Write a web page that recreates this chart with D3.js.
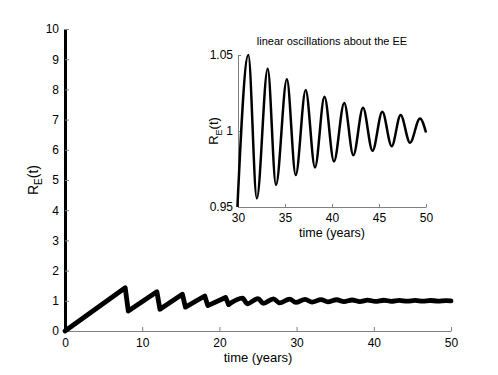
<!DOCTYPE html>
<html>
<head>
<meta charset="utf-8">
<script src="https://cdn.jsdelivr.net/npm/d3@7/dist/d3.min.js"></script>
<style>
  body { margin: 0; background: #fff; }
  svg { font-family: "Liberation Sans", Arial, Helvetica, sans-serif; }
  .axis text { fill: #000; }
</style>
</head>
<body>
<div class="chart"></div>
<script>
var svgWidth = 498;
var svgHeight = 375;

// R_E(t): peaks and troughs of the curve
var timeYears = [0, 7.8, 8.2, 11.9, 12.3, 15.2, 15.6, 18.1, 18.5, 20.8, 21.2,
  23.0, 23.6, 25.0, 25.7, 27.0, 27.8, 29.1, 29.9,
  31.1, 32.0, 33.16, 34.04, 35.2, 36.14, 37.2, 38.19, 39.2, 40.21,
  41.3, 42.27, 43.3, 44.31, 45.35, 46.35, 47.3, 48.3, 49.36, 50];
var rValues = [0, 1.43, 0.66, 1.30, 0.72, 1.22, 0.79, 1.16, 0.84, 1.11, 0.88,
  1.09, 0.90, 1.075, 0.915, 1.065, 0.93, 1.057, 0.945,
  1.05, 0.9557, 1.041, 0.9645, 1.034, 0.971, 1.027, 0.976, 1.0225, 0.980,
  1.0185, 0.984, 1.0153, 0.987, 1.0127, 0.990, 1.0105, 0.9923, 1.0083, 0.999];

var mainXTicks = [0, 10, 20, 30, 40, 50];
var mainYTicks = [0, 1, 2, 3, 4, 5, 6, 7, 8, 9, 10];
var insetXTicks = [30, 35, 40, 45, 50];
var insetYTicks = [0.95, 1, 1.05];

var series = timeYears.map(function(t, i) { return { t: t, r: rValues[i] }; });

var svg = d3.select(".chart")
  .append("svg")
  .attr("width", svgWidth)
  .attr("height", svgHeight);

// main axes
var margin = { top: 29, right: 47, bottom: 44, left: 65 };
var width = svgWidth - margin.left - margin.right;
var height = svgHeight - margin.top - margin.bottom;

var chartGroup = svg.append("g")
  .attr("transform", `translate(${margin.left}, ${margin.top})`);

var xScale = d3.scaleLinear().domain([0, 50]).range([0, width]);
var yScale = d3.scaleLinear().domain([0, 10]).range([height, 0]);

var bottomAxis = chartGroup.append("g")
  .attr("class", "axis")
  .attr("transform", `translate(0, ${height})`)
  .call(d3.axisBottom(xScale).tickValues(mainXTicks).tickSizeInner(-4).tickSizeOuter(0).tickPadding(7));
bottomAxis.selectAll("path, line").attr("stroke", "#808080");
bottomAxis.selectAll("text").attr("font-size", 12).attr("font-family", null);

var leftAxis = chartGroup.append("g")
  .attr("class", "axis")
  .call(d3.axisLeft(yScale).tickValues(mainYTicks).tickSizeInner(-4).tickSizeOuter(0).tickPadding(6));
leftAxis.select("path").attr("stroke", "#000").attr("stroke-width", 3);
leftAxis.selectAll("line").attr("stroke", "#808080");
leftAxis.selectAll("text").attr("font-size", 12).attr("font-family", null);

// sawtooth part straight, the later waves smooth
var sawLine = d3.line()
  .x(d => xScale(d.t))
  .y(d => yScale(d.r));
var waveLine = d3.line()
  .curve(d3.curveMonotoneX)
  .x(d => xScale(d.t))
  .y(d => yScale(d.r));

chartGroup.append("path")
  .attr("d", sawLine(series.filter(d => d.t <= 21.2)))
  .attr("fill", "none")
  .attr("stroke", "#000")
  .attr("stroke-width", 4.8)
  .attr("stroke-linejoin", "round")
  .attr("stroke-linecap", "round");

chartGroup.append("path")
  .attr("d", waveLine(series.filter(d => d.t >= 21.2)))
  .attr("fill", "none")
  .attr("stroke", "#000")
  .attr("stroke-width", 4.8)
  .attr("stroke-linejoin", "round")
  .attr("stroke-linecap", "round");

chartGroup.append("text")
  .attr("x", width / 2)
  .attr("y", height + 31)
  .attr("text-anchor", "middle")
  .attr("font-size", 13)
  .text("time (years)");

var mainYLabel = chartGroup.append("text")
  .attr("transform", `translate(-27, ${height / 2}) rotate(-90)`)
  .attr("text-anchor", "middle")
  .attr("font-size", 14);
mainYLabel.append("tspan").text("R");
mainYLabel.append("tspan").attr("dy", 4).attr("font-size", 10).text("E");
mainYLabel.append("tspan").attr("dy", -4).text("(t)");

// inset axes
var inset = { left: 238, top: 55, width: 188, height: 152 };
var insetGroup = svg.append("g")
  .attr("transform", `translate(${inset.left}, ${inset.top})`);

var xInset = d3.scaleLinear().domain([30, 50]).range([0, inset.width]);
var yInset = d3.scaleLinear().domain([0.95, 1.05]).range([inset.height, 0]);

svg.append("clipPath")
  .attr("id", "insetClip")
  .append("rect")
  .attr("x", -3).attr("y", -3)
  .attr("width", inset.width + 6)
  .attr("height", inset.height + 3);

var insetBottom = insetGroup.append("g")
  .attr("class", "axis")
  .attr("transform", `translate(0, ${inset.height})`)
  .call(d3.axisBottom(xInset).tickValues(insetXTicks).tickSizeInner(-3).tickSizeOuter(0).tickPadding(6));
insetBottom.selectAll("path, line").attr("stroke", "#808080");
insetBottom.selectAll("text").attr("font-size", 12).attr("font-family", null);

var insetLeft = insetGroup.append("g")
  .attr("class", "axis")
  .call(d3.axisLeft(yInset).tickValues(insetYTicks).tickFormat(d3.format("")).tickSizeInner(-3).tickSizeOuter(0).tickPadding(5));
insetLeft.selectAll("path, line").attr("stroke", "#808080");
insetLeft.selectAll("text").attr("font-size", 12).attr("font-family", null);

var insetLine = d3.line()
  .curve(d3.curveMonotoneX)
  .x(d => xInset(d.t))
  .y(d => yInset(d.r));

insetGroup.append("path")
  .attr("clip-path", "url(#insetClip)")
  .attr("d", insetLine(series.filter(d => d.t >= 29.9)))
  .attr("fill", "none")
  .attr("stroke", "#000")
  .attr("stroke-width", 2.5)
  .attr("stroke-linejoin", "round");

insetGroup.append("text")
  .attr("x", inset.width / 2)
  .attr("y", -10)
  .attr("text-anchor", "middle")
  .attr("font-size", 11)
  .text("linear oscillations about the EE");

insetGroup.append("text")
  .attr("x", inset.width / 2)
  .attr("y", inset.height + 30)
  .attr("text-anchor", "middle")
  .attr("font-size", 12.5)
  .text("time (years)");

var insetYLabel = insetGroup.append("text")
  .attr("transform", `translate(-20, ${inset.height / 2}) rotate(-90)`)
  .attr("text-anchor", "middle")
  .attr("font-size", 13);
insetYLabel.append("tspan").text("R");
insetYLabel.append("tspan").attr("dy", 4).attr("font-size", 9).text("E");
insetYLabel.append("tspan").attr("dy", -4).text("(t)");
</script>
</body>
</html>
